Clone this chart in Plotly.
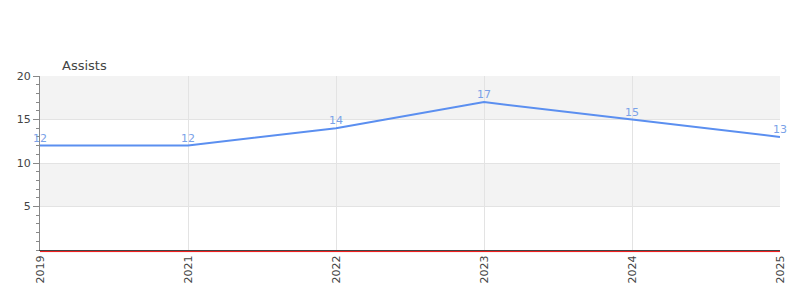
import plotly.graph_objects as go

years = ["2019", "2021", "2022", "2023", "2024", "2025"]
assists = [12, 12, 14, 17, 15, 13]
y_ticks = [5, 10, 15, 20]

fig = go.Figure()
fig.add_trace(go.Scatter(
    x=years, y=assists, mode="lines",
    line=dict(color="#5b8ff0", width=2),
    cliponaxis=False, hoverinfo="skip",
))
for i, yv in enumerate(assists):
    fig.add_annotation(x=i, y=yv, text=str(yv), showarrow=False, yanchor="bottom",
                       yshift=-1, font=dict(color="#7aa2e8", size=11, family="DejaVu Sans"))

# alternating bands
for lo, hi in [(15, 20), (5, 10)]:
    fig.add_shape(type="rect", xref="paper", yref="y", x0=0, x1=1, y0=lo, y1=hi,
                  fillcolor="#f3f3f3", line_width=0, layer="below")
fig.add_shape(type="line", xref="paper", yref="paper", x0=0, x1=1, y0=-0.009, y1=-0.009,
              line=dict(color="#ee1111", width=1), layer="above")

fig.add_annotation(text="Assists", xref="paper", yref="paper", x=20/740, y=1,
                   xanchor="left", yanchor="bottom", yshift=1, showarrow=False,
                   font=dict(size=13, color="#444", family="DejaVu Sans"))

fig.update_layout(
    width=800, height=300, margin=dict(l=40, r=20, t=76, b=50),
    paper_bgcolor="white", plot_bgcolor="rgba(0,0,0,0)", showlegend=False,
    font=dict(family="DejaVu Sans", size=11, color="#444"),
)
fig.update_xaxes(type="category", range=[0, 5], tickangle=-90, showgrid=True,
                 gridcolor="#e3e3e3", showline=True, linecolor="#444", linewidth=1,
                 ticks="", tickfont=dict(size=11, color="#444"), zeroline=False)
fig.update_yaxes(range=[0, 20], tickvals=y_ticks, showgrid=True, gridcolor="#e3e3e3",
                 showline=True, linecolor="#888", linewidth=1, ticks="outside",
                 ticklen=6, tickcolor="#888", zeroline=False,
                 minor=dict(dtick=1, ticks="outside", ticklen=3, tickcolor="#888", showgrid=False),
                 tickfont=dict(size=11, color="#444"))

fig.write_html("out.html")
